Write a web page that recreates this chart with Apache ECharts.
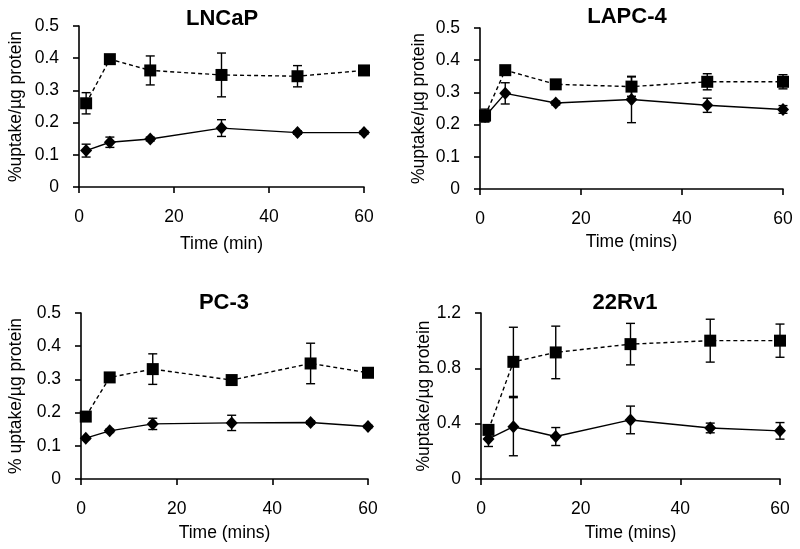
<!DOCTYPE html>
<html><head><meta charset="utf-8">
<script src="https://cdn.jsdelivr.net/npm/echarts@6/dist/echarts.min.js"></script>
<style>html,body{margin:0;padding:0;background:#fff}#c{width:800px;height:549px}</style>
</head><body><div id="c"></div>
<script>
// ---- data ----
var titles = ['LNCaP', 'LAPC-4', 'PC-3', '22Rv1'];
var xNames = ['Time (min)', 'Time (mins)', 'Time (mins)', 'Time (mins)'];
var yNames = ['%uptake/µg protein', '%uptake/µg protein', '% uptake/µg protein', '%uptake/µg protein'];
var yMax = [0.5, 0.5, 0.5, 1.2];
var yStep = [0.1, 0.1, 0.1, 0.4];

// LNCaP
var lncapSqT = [1.5, 6.5, 15, 30, 46, 60];
var lncapSq = [0.26, 0.397, 0.362, 0.348, 0.344, 0.362];
var lncapSqErr = [0.033, 0.013, 0.045, 0.068, 0.033, 0.006];
var lncapDiT = [1.5, 6.5, 15, 30, 46, 60];
var lncapDi = [0.113, 0.139, 0.149, 0.183, 0.169, 0.169];
var lncapDiErr = [0.02, 0.016, 0.006, 0.026, 0.005, 0.005];
// LAPC-4
var lapcSqT = [1, 5, 15, 30, 45, 60];
var lapcSq = [0.228, 0.369, 0.325, 0.318, 0.333, 0.333];
var lapcSqErr = [0.02, 0.008, 0.008, 0.03, 0.025, 0.022];
var lapcDiT = [1, 5, 15, 30, 45, 60];
var lapcDi = [0.225, 0.297, 0.267, 0.278, 0.26, 0.247];
var lapcDiErr = [0.015, 0.033, 0.006, 0.072, 0.022, 0.012];
// PC-3
var pc3SqT = [1, 6, 15, 31.5, 48, 60];
var pc3Sq = [0.188, 0.306, 0.331, 0.298, 0.348, 0.32];
var pc3SqErr = [0.01, 0.012, 0.046, 0.008, 0.061, 0.008];
var pc3DiT = [1, 6, 15, 31.5, 48, 60];
var pc3Di = [0.123, 0.145, 0.166, 0.169, 0.17, 0.158];
var pc3DiErr = [0.004, 0.005, 0.017, 0.023, 0.005, 0.004];
// 22Rv1
var rvSqT = [1.5, 6.5, 15, 30, 46, 60];
var rvSq = [0.355, 0.847, 0.915, 0.975, 1.0, 1.0];
var rvSqErr = [0.03, 0.25, 0.19, 0.15, 0.155, 0.12];
var rvDiT = [1.5, 6.5, 15, 30, 46, 60];
var rvDi = [0.29, 0.378, 0.307, 0.427, 0.369, 0.348];
var rvDiErr = [0.055, 0.21, 0.065, 0.1, 0.035, 0.06];

var panels = [
  {sqT: lncapSqT, sq: lncapSq, sqE: lncapSqErr, diT: lncapDiT, di: lncapDi, diE: lncapDiErr},
  {sqT: lapcSqT, sq: lapcSq, sqE: lapcSqErr, diT: lapcDiT, di: lapcDi, diE: lapcDiErr},
  {sqT: pc3SqT, sq: pc3Sq, sqE: pc3SqErr, diT: pc3DiT, di: pc3Di, diE: pc3DiErr},
  {sqT: rvSqT, sq: rvSq, sqE: rvSqErr, diT: rvDiT, di: rvDi, diE: rvDiErr}
];

// ---- layout ----
var FONT = '"Liberation Sans", Arial, sans-serif';
var grids = [
  {left: 79, top: 26, width: 285, height: 161},
  {left: 480, top: 28, width: 303, height: 161},
  {left: 81, top: 313, width: 287, height: 166},
  {left: 481, top: 313, width: 299, height: 166}
];
var titlePos = [[222, 8], [627, 6], [224, 292], [625, 292]];
var yNameGap = [54, 52, 56, 48];
var xNameGap = [48, 44, 45, 45];

function zip(t, v, e) {
  return t.map(function (x, i) { return e ? [x, v[i], e[i]] : [x, v[i]]; });
}

function errRender(params, api) {
  var x = api.value(0), y = api.value(1), e = api.value(2);
  var top = api.coord([x, y + e]), bot = api.coord([x, y - e]);
  var hw = 4.5, st = {stroke: '#000', lineWidth: 1.4};
  return {type: 'group', children: [
    {type: 'line', shape: {x1: top[0], y1: top[1], x2: bot[0], y2: bot[1]}, style: st},
    {type: 'line', shape: {x1: top[0] - hw, y1: top[1], x2: top[0] + hw, y2: top[1]}, style: st},
    {type: 'line', shape: {x1: bot[0] - hw, y1: bot[1], x2: bot[0] + hw, y2: bot[1]}, style: st}
  ]};
}

var axisLine = {show: true, lineStyle: {color: '#000', width: 1.6}};
var axisTick = {show: true, length: 6, inside: false, lineStyle: {color: '#000', width: 1.6}};

var option = {
  backgroundColor: '#fff',
  animation: false,
  title: titles.map(function (t, i) {
    return {text: t, left: titlePos[i][0], top: titlePos[i][1], textAlign: 'center', padding: 0,
      textStyle: {fontFamily: FONT, fontSize: 22, fontWeight: 'bold', color: '#000'}};
  }),
  grid: grids,
  xAxis: grids.map(function (g, i) {
    return {type: 'value', gridIndex: i, min: 0, max: 60, interval: 20,
      axisLine: axisLine, axisTick: axisTick, splitLine: {show: false},
      axisLabel: {color: '#000', fontSize: 17.5, fontFamily: FONT, margin: 21},
      name: xNames[i], nameLocation: 'middle', nameGap: xNameGap[i],
      nameTextStyle: {color: '#000', fontSize: 17.5, fontFamily: FONT}};
  }),
  yAxis: grids.map(function (g, i) {
    return {type: 'value', gridIndex: i, min: 0, max: yMax[i], interval: yStep[i],
      axisLine: axisLine, axisTick: axisTick, splitLine: {show: false},
      axisLabel: {color: '#000', fontSize: 17.5, fontFamily: FONT, margin: 20},
      name: yNames[i], nameLocation: 'middle', nameGap: yNameGap[i], nameRotate: 90,
      nameTextStyle: {color: '#000', fontSize: 17.5, fontFamily: FONT}};
  }),
  series: []
};

panels.forEach(function (p, i) {
  option.series.push({type: 'custom', xAxisIndex: i, yAxisIndex: i, renderItem: errRender,
    data: zip(p.sqT, p.sq, p.sqE), encode: {x: 0, y: 1}, clip: false, z: 1, silent: true});
  option.series.push({type: 'custom', xAxisIndex: i, yAxisIndex: i, renderItem: errRender,
    data: zip(p.diT, p.di, p.diE), encode: {x: 0, y: 1}, clip: false, z: 1, silent: true});
  option.series.push({type: 'line', xAxisIndex: i, yAxisIndex: i, data: zip(p.sqT, p.sq),
    symbol: 'rect', symbolSize: 12, showAllSymbol: true, z: 3,
    lineStyle: {color: '#000', width: 1.4, type: [4, 3]},
    itemStyle: {color: '#000', borderWidth: 0}});
  option.series.push({type: 'line', xAxisIndex: i, yAxisIndex: i, data: zip(p.diT, p.di),
    symbol: 'diamond', symbolSize: [12, 13], showAllSymbol: true, z: 3,
    lineStyle: {color: '#000', width: 1.4, type: 'solid'},
    itemStyle: {color: '#000', borderWidth: 0}});
});

var chart = echarts.init(document.getElementById('c'), null, {renderer: 'canvas'});
chart.setOption(option);
</script>
</body></html>
